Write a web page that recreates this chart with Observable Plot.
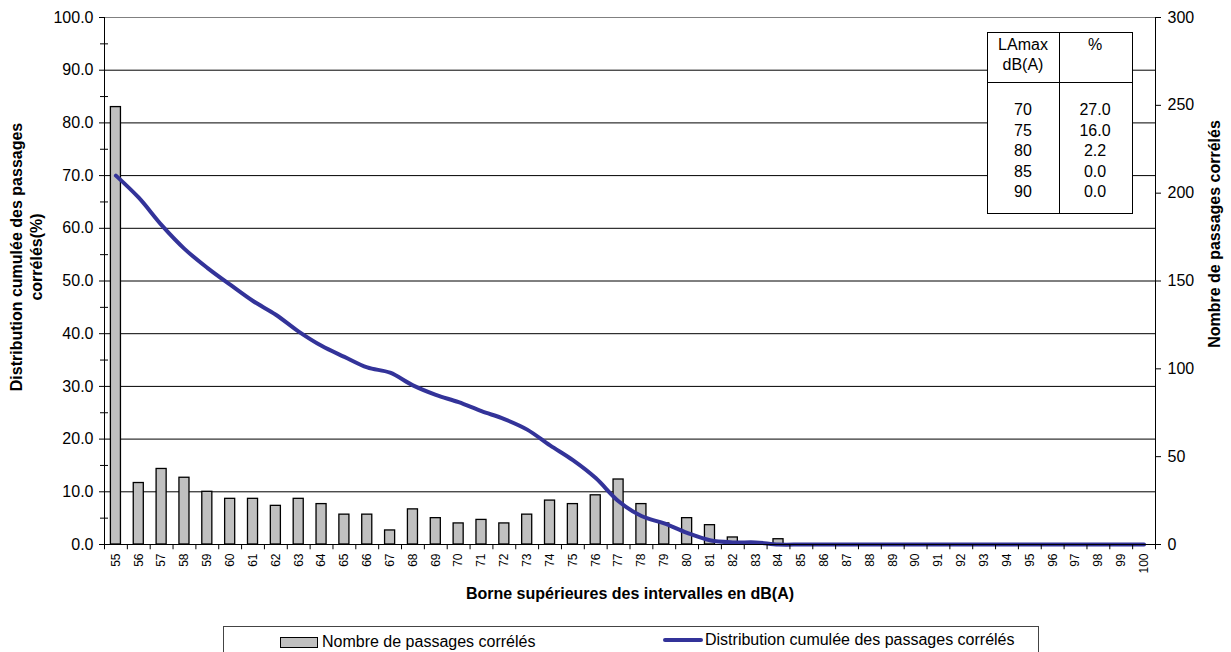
<!DOCTYPE html>
<html><head><meta charset="utf-8">
<script src="https://cdn.jsdelivr.net/npm/d3@7"></script>
<script src="https://cdn.jsdelivr.net/npm/@observablehq/plot@0.6"></script>
<style>
body{margin:0;background:#fff;font-family:"Liberation Sans",Arial,sans-serif;color:#000;}
#wrap{position:relative;width:1231px;height:652px;overflow:hidden;background:#fff;}
.abs{position:absolute;white-space:nowrap;}
.title{font-weight:bold;font-size:16px;line-height:20px;text-align:center;}
.cell{position:absolute;font-size:16px;line-height:20px;transform:translate(-50%,-50%);white-space:nowrap;}
</style></head><body><div id="wrap"></div>
<script>
// ---- data ----
const categories = [55,56,57,58,59,60,61,62,63,64,65,66,67,68,69,70,71,72,73,74,75,76,77,78,79,80,81,82,83,84,85,86,87,88,89,90,91,92,93,94,95,96,97,98,99,100];
const counts = [249,35,43,38,30,26,26,22,26,23,17,17,8,20,15,12,14,12,17,25,23,28,37,23,12,15,11,4,0,3,0,0,0,0,0,0,0,0,0,0,0,0,0,0,0,0];
const cumulative = [70.0,65.8,60.6,56.1,52.5,49.3,46.2,43.6,40.4,37.7,35.6,33.6,32.6,30.2,28.4,27.0,25.3,23.8,21.8,18.8,16.0,12.6,8.2,5.4,4.0,2.2,0.8,0.4,0.4,0.0,0,0,0,0,0,0,0,0,0,0,0,0,0,0,0,0];
const leftTicks = [0,10,20,30,40,50,60,70,80,90,100];
const minorTicks = [5,15,25,35,45,55,65,75,85,95];
const rightTicks = [0,50,100,150,200,250,300];
const tableLevels = ["70","75","80","85","90"];
const tablePercents = ["27.0","16.0","2.2","0.0","0.0"];
const tableHeaders = [["LAmax","dB(A)"],["%"]];
const seriesNames = ["Nombre de passages corrélés","Distribution cumulée des passages corrélés"];
const xTitle = "Borne supérieures des intervalles en dB(A)";
const yLeftTitle = ["Distribution cumulée des passages","corrélés(%)"];
const yRightTitle = "Nombre de passages corrélés";

// ---- layout ----
const W = 1231, H = 610, mL = 104, mR = 76, mT = 17, mB = 66;
const step = (W - mL - mR) / categories.length;
const countMax = 300, ratio = 100 / countMax;
const barColor = "#c0c0c0", lineColor = "#333399";
const rows = categories.map((c, i) => ({cat: c, count: counts[i], cum: cumulative[i]}));
const last = categories[categories.length - 1];

const chart = Plot.plot({
  width: W, height: H, marginLeft: mL, marginRight: mR, marginTop: mT, marginBottom: mB,
  style: {fontFamily: '"Liberation Sans", Arial, sans-serif', fontSize: "16px", color: "#000", background: "transparent", overflow: "visible"},
  x: {type: "band", domain: categories, paddingInner: 0.56, paddingOuter: 0.28},
  y: {domain: [0, 100]},
  marks: [
    Plot.ruleY(leftTicks.slice(1, -1), {stroke: "#000", strokeWidth: 1}),
    Plot.ruleY([100], {stroke: "#808080", strokeWidth: 1}),
    Plot.barY(rows, {x: "cat", y: d => d.count * ratio, fill: barColor, stroke: "#000", strokeWidth: 1.3}),
    Plot.line(rows, {x: "cat", y: "cum", stroke: lineColor, strokeWidth: 4, curve: "catmull-rom"}),
    Plot.ruleY([0], {stroke: "#000", strokeWidth: 1}),
    Plot.ruleX([categories[0]], {dx: -step / 2, stroke: "#000", strokeWidth: 1}),
    Plot.ruleX([last], {dx: step / 2, stroke: "#000", strokeWidth: 1}),
    Plot.ruleX(categories, {dx: -step / 2, y1: 0, y2: -1, stroke: "#000", strokeWidth: 1}),
    Plot.ruleX([last], {dx: step / 2, y1: 0, y2: -1, stroke: "#000", strokeWidth: 1}),
    Plot.axisX({tickSize: 0, tickPadding: 9, tickRotate: -90, fontSize: 12, label: null}),
    Plot.axisY({anchor: "left", ticks: leftTicks, tickSize: 5, tickPadding: 6, tickFormat: d => d.toFixed(1), label: null, fontSize: 16}),
    Plot.axisY({anchor: "left", ticks: minorTicks, tickSize: 8, dx: 4, tickFormat: () => "", label: null}),
    Plot.axisY({anchor: "right", ticks: rightTicks.map(c => c * ratio), tickSize: 5, tickPadding: 7, tickFormat: v => String(Math.round(v / ratio)), label: null, fontSize: 16})
  ]
});
chart.style.position = "absolute";
chart.style.left = "0px";
chart.style.top = "0px";
const wrap = document.getElementById("wrap");
wrap.appendChild(chart);

function add(html, css, cls) {
  const d = document.createElement("div");
  d.className = cls || "abs";
  d.innerHTML = html;
  Object.assign(d.style, css);
  wrap.appendChild(d);
  return d;
}
// axis titles
add(yLeftTitle.join("<br>"), {left: "27px", top: "257px", transform: "translate(-50%,-50%) rotate(-90deg)"}, "abs title");
add(yRightTitle, {left: "1215px", top: "234px", transform: "translate(-50%,-50%) rotate(-90deg)"}, "abs title");
add(xTitle, {left: "630px", top: "594px", transform: "translate(-50%,-50%)"}, "abs title");

// table
add("", {left: "987px", top: "32px", width: "144px", height: "180px", border: "1px solid #000", background: "#fff"});
add("", {left: "1059px", top: "32px", width: "0px", height: "181px", borderLeft: "1px solid #000"});
add("", {left: "987px", top: "82px", width: "145px", height: "0px", borderTop: "1px solid #000"});
tableHeaders[0].forEach((t, i) => add(t, {left: "1023px", top: (45 + i * 20) + "px"}, "cell"));
tableHeaders[1].forEach((t, i) => add(t, {left: "1095px", top: (45 + i * 20) + "px"}, "cell"));
tableLevels.forEach((t, i) => add(t, {left: "1023px", top: (110 + i * 20.5) + "px"}, "cell"));
tablePercents.forEach((t, i) => add(t, {left: "1095px", top: (110 + i * 20.5) + "px"}, "cell"));

// legend
add("", {left: "223px", top: "626px", width: "814px", height: "60px", border: "1px solid #444", background: "#fff"});
add("", {left: "280px", top: "637px", width: "36px", height: "9px", border: "1px solid #000", background: barColor});
add(seriesNames[0], {left: "322px", top: "632px", fontSize: "16px", lineHeight: "20px"});
add("", {left: "663px", top: "638px", width: "40px", height: "4px", background: lineColor, borderRadius: "2px"});
add(seriesNames[1], {left: "705px", top: "630px", fontSize: "16px", lineHeight: "20px"});
</script></body></html>
